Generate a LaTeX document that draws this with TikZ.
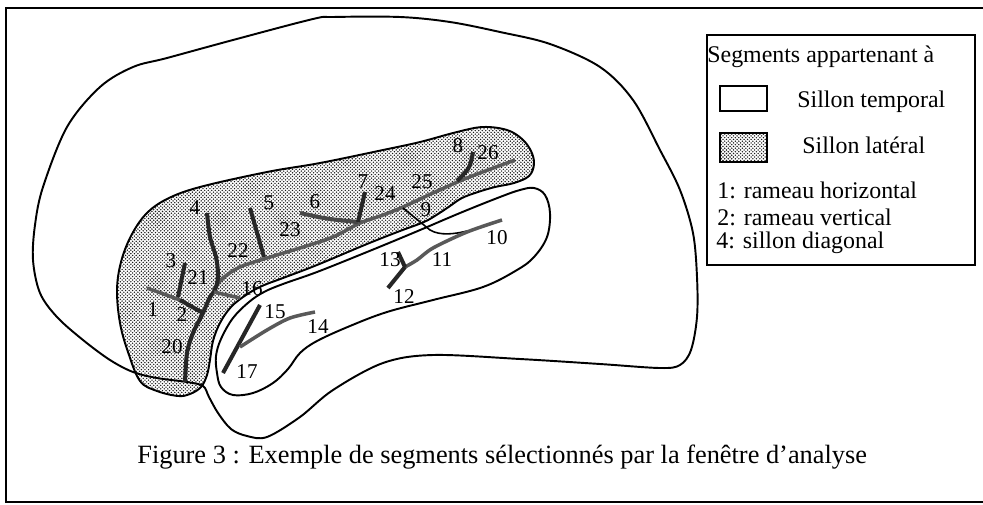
\documentclass[tikz,border=0pt]{standalone}
\usepackage{fontspec}
\setmainfont{Liberation Serif}
\usetikzlibrary{patterns.meta}

\tikzdeclarepattern{
  name=finedots,
  type=uncolored,
  bounding box={(-0.1pt,-0.1pt) and (2.1pt,2.1pt)},
  tile size={(2pt,2pt)},
  code={
    \fill (0.5pt,0.5pt) circle [radius=0.45pt];
    \fill (1.5pt,1.5pt) circle [radius=0.45pt];
  }
}

\tikzset{
  outline/.style={draw=black, line width=1.1pt},
  lateral/.style={outline, pattern=finedots, pattern color=black!90},
  darkseg/.style={line width=2.3pt, black!85},
  grayseg/.style={line width=2pt, black!65},
  thinseg/.style={line width=0.9pt, black},
  num/.style={font=\fontsize{12}{12}\selectfont, inner sep=0pt},
  legtext/.style={font=\fontsize{13.6}{14}\selectfont, inner sep=0pt, anchor=west},
}

\begin{document}
\begin{tikzpicture}[x=0.02cm, y=-0.02cm]
            \useasboundingbox (0,0) rectangle (983,504);
            \draw[line width=1.2pt] (992,8) -- (6,8) -- (6,502) -- (992,502);

            % sillon lateral, lobe temporal, contour
            \path[lateral] plot[smooth cycle, tension=0.6] coordinates {(140,381) (128,352) (120,323) (117,290) (121,262) (131,236) (146,214) (167,199) (200,187) (267,172) (320,163) (383,150) (420,142) (457,132) (483,127) (507,130) (522,139) (531,151) (534,164) (529,176) (514,183) (495,187) (478,192) (462,198) (450,206) (438,214) (424,222) (400,231) (367,244) (317,265) (283,278) (262,286) (246,295) (231,307) (220,323) (213,341) (210,360) (207,375) (201,387) (190,394) (178,396) (157,391)};
            \draw[outline, fill=white] plot[smooth cycle, tension=0.6] coordinates {(217,373) (216,356) (221,339) (233,318) (249,302) (264,292) (283,284) (317,272) (367,252) (413,233) (460,213) (500,197) (520,190) (534,188) (545,195) (550,213) (547,237) (534,257) (517,270) (483,287) (433,300) (387,312) (350,326) (317,341) (300,353) (288,369) (273,383) (253,393) (233,395) (221,387)};
            \draw[outline] plot[smooth cycle, tension=0.55] coordinates {(400,17) (450,22) (500,32) (550,44) (600,67) (633,100) (660,150) (680,190) (693,233) (697,277) (697,317) (691,350) (680,365) (660,368) (600,364) (520,359) (433,355) (383,363) (333,390) (300,417) (267,437) (247,436) (231,429) (218,413) (209,397) (203,386) (187,382) (157,378) (133,372) (110,360) (83,340) (57,317) (40,293) (33,260) (35,225) (43,187) (67,127) (100,87) (133,67) (167,58) (233,40) (313,19) (333,17)};

            % segments
            \draw[grayseg] plot[smooth] coordinates {(213,290) (223,278) (240,267) (267,258) (300,248) (333,237) (360,223) (383,215) (403,207) (433,193) (467,178) (515,160)};
            \draw[darkseg] plot[smooth] coordinates {(185,382) (187,353) (193,333) (203,313) (210,297) (216,290)};
            \draw[darkseg] plot[smooth] coordinates {(207,213) (210,237) (216,257) (218,273) (217,284) (214,292)};
            \draw[darkseg] (185,263) -- (178,297);
            \draw[grayseg] (147,288) -- (180,300);
            \draw[darkseg] (180,300) -- (203,313);
            \draw[grayseg] (214,292) -- (240,298);
            \draw[darkseg] (250,208) -- (264,257);
            \draw[darkseg, black!72] (300,213) .. controls (327,219) .. (358,222);
            \draw[darkseg] (365,192) -- (358,222);
            \draw[darkseg] (473,152) .. controls (470,168) .. (457,181);
            \draw[thinseg] (403,208) -- (430,230) .. controls (440,236) and (455,234) .. (467,231);
            \draw[grayseg] plot[smooth] coordinates {(502,220) (467,232) (433,248) (417,260) (405,267)};
            \draw[darkseg] (405,267) -- (388,288);
            \draw[darkseg] (398,252) -- (405,267);
            \draw[darkseg] (260,305) -- (223,373);
            \draw[grayseg] plot[smooth] coordinates {(240,347) (267,330) (290,318) (315,312)};

            % numeros
            \node[num] (n1) at (153,310) {1};
            \node[num] (n2) at (182,315) {2};
            \node[num] (n3) at (171,261) {3};
            \node[num] (n4) at (195,208) {4};
            \node[num] (n5) at (269,203) {5};
            \node[num] (n6) at (315,202) {6};
            \node[num] (n7) at (363,182) {7};
            \node[num] (n8) at (458,146) {8};
            \node[num] (n9) at (426,210) {9};
            \node[num] (n10) at (497,238) {10};
            \node[num] (n11) at (442,260) {11};
            \node[num] (n12) at (404,297) {12};
            \node[num] (n13) at (390,260) {13};
            \node[num] (n14) at (318,327) {14};
            \node[num] (n15) at (275,312) {15};
            \node[num] (n16) at (252,289) {16};
            \node[num] (n17) at (247,372) {17};
            \node[num] (n20) at (172,347) {20};
            \node[num] (n21) at (198,278) {21};
            \node[num] (n22) at (238,251) {22};
            \node[num] (n23) at (290,230) {23};
            \node[num] (n24) at (385,194) {24};
            \node[num] (n25) at (422,182) {25};
            \node[num] (n26) at (488,153) {26};

            % legende
            \draw[line width=1pt] (707,35) rectangle (975,265);
            \node[legtext] (ltitle) at (707,57) {Segments appartenant à};
            \draw[line width=1pt] (720,86) rectangle (767,111);
            \node[legtext] (ltemp) at (797,102) {Sillon temporal};
            \draw[lateral] (720,133) rectangle (767,162);
            \node[legtext] (llat) at (802,145) {Sillon latéral};
            \node[legtext] (lone) at (717,190) {1: rameau horizontal};
            \node[legtext] (ltwo) at (717,217) {2: rameau vertical};
            \node[legtext] (lfour) at (716,243) {4: sillon diagonal};

            \node[font=\fontsize{15}{16}\selectfont, inner sep=0pt, anchor=west] (caption) at (137,457) {Figure 3 : Exemple de segments sélectionnés par la fenêtre d'analyse};
        \end{tikzpicture}
\end{document}
